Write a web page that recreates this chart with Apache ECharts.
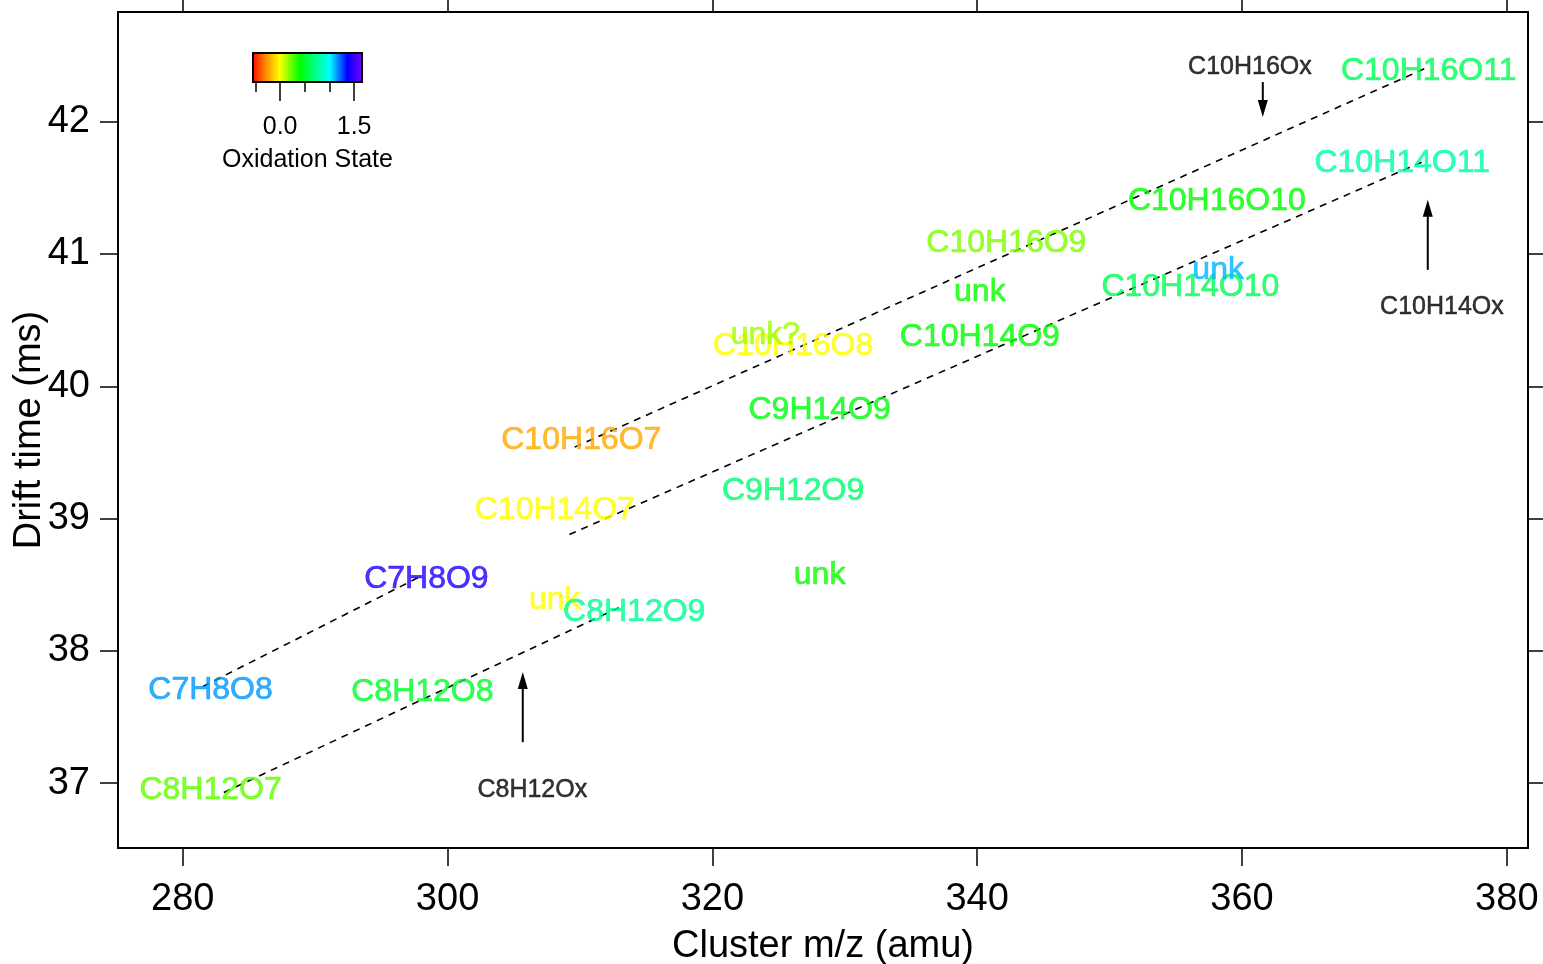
<!DOCTYPE html>
<html><head><meta charset="utf-8">
<script src="https://cdn.jsdelivr.net/npm/echarts@6/dist/echarts.min.js"></script>
<style>html,body{margin:0;padding:0;background:#fff}#c{width:1543px;height:964px}</style>
</head><body><div id="c"></div>
<script>
// ---- data ----
const labelNames = ['C8H12O7','C7H8O8','C7H8O9','C8H12O8','unk','C8H12O9','C10H14O7','C10H16O7','C10H16O8','unk?','C9H14O9','C9H12O9','unk','C10H14O9','unk','C10H16O9','C10H16O10','C10H14O10','unk','C10H14O11','C10H16O11'];
const labelMz = [282.1,282.1,298.4,298.1,308.1,314.1,308.1,310.1,326.1,324.0,328.1,326.1,328.1,340.2,340.2,342.2,358.1,356.1,358.2,372.1,374.1];
const labelDrift = [36.95,37.70,38.54,37.69,38.38,38.29,39.06,39.59,40.30,40.39,39.82,39.21,38.57,40.37,40.71,41.08,41.40,40.75,40.88,41.69,42.38];
const labelOxState = [0.25,1.14,1.43,0.5,0.0,0.75,0.0,-0.2,0.0,0.15,0.44,0.67,0.38,0.4,0.38,0.2,0.4,0.6,1.1,0.8,0.6];

const trendNames = ['C7H8Ox','C8H12Ox','C10H16Ox','C10H14Ox'];
const trendStartMz = [281.5,283.1,309.6,309.2];
const trendStartDrift = [37.73,36.93,39.54,38.88];
const trendEndMz = [297.9,313.0,374.0,373.7];
const trendEndDrift = [38.56,38.33,42.41,41.70];

const arrowNames = ['C10H16Ox','C10H14Ox','C8H12Ox'];
const arrowMz = [361.57,374.03,305.68];
const arrowFromDrift = [42.30,40.88,37.31];
const arrowToDrift = [42.035,41.41,37.84];
const arrowLabelMz = [360.6,375.1,306.4];
const arrowLabelDrift = [42.43,40.61,36.96];

const xTicks = [280,300,320,340,360,380];
const yTicks = [37,38,39,40,41,42];
const colorbarMajorTicks = [0,1.5];
const colorbarMinorTicks = [-0.5,0.5,1.0];
const colorbarRange = [-0.55,1.66];
const colorStopValues = [-0.55,-0.3,0.0,0.4,1.0,1.35,1.66];
const colorStopColors = ['#ff0000','#ff8000','#ffff00','#00ff00','#00ffff','#0000ff','#8000ff'];

// ---- helpers ----
const FONT = '"Liberation Sans", Arial, sans-serif';
function hex2rgb(h){return [parseInt(h.slice(1,3),16),parseInt(h.slice(3,5),16),parseInt(h.slice(5,7),16)];}
function colorFor(v){
  if (v <= colorStopValues[0]) return colorStopColors[0];
  for (let i=1;i<colorStopValues.length;i++){
    if (v <= colorStopValues[i]){
      const t=(v-colorStopValues[i-1])/(colorStopValues[i]-colorStopValues[i-1]);
      const a=hex2rgb(colorStopColors[i-1]), b=hex2rgb(colorStopColors[i]);
      return 'rgb('+a.map((c,k)=>Math.round(c+(b[k]-c)*t)).join(',')+')';
    }
  }
  return colorStopColors[colorStopColors.length-1];
}
const gradStops = colorStopValues.map((v,i)=>({offset:(v-colorbarRange[0])/(colorbarRange[1]-colorbarRange[0]),color:colorStopColors[i]}));

const trendSeries = trendNames.map((n,i)=>({
  name:n, type:'line', xAxisIndex:0, yAxisIndex:0, silent:true, symbol:'none', z:2,
  lineStyle:{color:'#000',width:1.6,type:[7,6]},
  data:[[trendStartMz[i],trendStartDrift[i]],[trendEndMz[i],trendEndDrift[i]]]
}));

const labelData = labelNames.map((n,i)=>{
  const c=colorFor(labelOxState[i]);
  return {name:n, value:[labelMz[i],labelDrift[i]],
    label:{color:c, textBorderColor:c, textBorderWidth:0.7}};
});

const option = {
  backgroundColor:'#fff',
  animation:false,
  grid:[
    {left:118, top:12, width:1410, height:836, show:false, outerBoundsMode:'none', containLabel:false},
    {left:253, top:53, width:109, height:29, show:false, outerBoundsMode:'none', containLabel:false}
  ],
  xAxis:[
    {gridIndex:0, type:'value', position:'bottom', min:275.11, max:381.6,
     axisLine:{show:true,onZero:false,lineStyle:{color:'#000',width:2}},
     axisTick:{show:true,inside:false,length:18,customValues:xTicks,lineStyle:{color:'#000',width:1.5}},
     axisLabel:{show:true,customValues:xTicks,margin:33,fontSize:38,color:'#000',fontFamily:FONT},
     splitLine:{show:false},
     name:'Cluster m/z (amu)', nameLocation:'middle', nameGap:80,
     nameTextStyle:{fontSize:38,color:'#000',fontFamily:FONT}},
    {gridIndex:0, type:'value', position:'top', min:275.11, max:381.6,
     axisLine:{show:true,onZero:false,lineStyle:{color:'#000',width:2}},
     axisTick:{show:true,inside:false,length:18,customValues:xTicks,lineStyle:{color:'#000',width:1.5}},
     axisLabel:{show:false,customValues:xTicks}, splitLine:{show:false}},
    {gridIndex:1, type:'value', position:'bottom', min:colorbarRange[0], max:colorbarRange[1],
     axisLine:{show:false},
     axisTick:{show:true,inside:false,length:19,customValues:colorbarMajorTicks,lineStyle:{color:'#000',width:1.5}},
     axisLabel:{show:true,customValues:colorbarMajorTicks,margin:33,fontSize:25,color:'#000',fontFamily:FONT,
       formatter:v=>Number(v).toFixed(1)},
     splitLine:{show:false},
     name:'Oxidation State', nameLocation:'middle', nameGap:66,
     nameTextStyle:{fontSize:25,color:'#000',fontFamily:FONT}},
    {gridIndex:1, type:'value', position:'bottom', min:colorbarRange[0], max:colorbarRange[1],
     axisLine:{show:false},
     axisTick:{show:true,inside:false,length:10,customValues:colorbarMinorTicks,lineStyle:{color:'#000',width:1.5}},
     axisLabel:{show:false,customValues:colorbarMinorTicks}, splitLine:{show:false}}
  ],
  yAxis:[
    {gridIndex:0, type:'value', position:'left', min:36.51, max:42.829,
     axisLine:{show:true,onZero:false,lineStyle:{color:'#000',width:2}},
     axisTick:{show:true,inside:false,length:18,customValues:yTicks,lineStyle:{color:'#000',width:1.5}},
     axisLabel:{show:true,customValues:yTicks,margin:28,fontSize:38,color:'#000',fontFamily:FONT},
     splitLine:{show:false},
     name:'Drift time (ms)', nameLocation:'middle', nameGap:69, nameRotate:90, nameMoveOverlap:false,
     nameTextStyle:{fontSize:38,color:'#000',fontFamily:FONT}},
    {gridIndex:0, type:'value', position:'right', min:36.51, max:42.829,
     axisLine:{show:true,onZero:false,lineStyle:{color:'#000',width:2}},
     axisTick:{show:true,inside:false,length:18,customValues:yTicks,lineStyle:{color:'#000',width:1.5}},
     axisLabel:{show:false,customValues:yTicks}, splitLine:{show:false}},
    {gridIndex:1, type:'value', min:0, max:1, show:false}
  ],
  series:[
    ...trendSeries,
    {name:'formulas', type:'scatter', xAxisIndex:0, yAxisIndex:0, z:3, silent:true,
     symbolSize:1, itemStyle:{color:'rgba(0,0,0,0)'},
     label:{show:true, position:'inside', offset:[0,3], formatter:p=>p.name, fontSize:32, fontFamily:FONT},
     labelLayout:{hideOverlap:false},
     data:labelData},
    {name:'arrows', type:'custom', xAxisIndex:0, yAxisIndex:0, z:4, silent:true, clip:false,
     data:arrowNames.map((n,i)=>[arrowMz[i],arrowFromDrift[i],arrowToDrift[i]]),
     encode:{x:0,y:[1,2]},
     renderItem:(params,api)=>{
       const p0=api.coord([api.value(0),api.value(1)]);
       const p1=api.coord([api.value(0),api.value(2)]);
       const dir=p1[1]>p0[1]?1:-1;
       const headL=17, headW=5;
       return {type:'group',children:[
         {type:'line',shape:{x1:p0[0],y1:p0[1],x2:p1[0],y2:p1[1]-dir*headL*0.8},style:{stroke:'#000',lineWidth:2}},
         {type:'polygon',shape:{points:[[p1[0],p1[1]],[p1[0]-headW,p1[1]-dir*headL],[p1[0]+headW,p1[1]-dir*headL]]},style:{fill:'#000'}}
       ]};
     }},
    {name:'arrowLabels', type:'scatter', xAxisIndex:0, yAxisIndex:0, z:4, silent:true,
     symbolSize:1, itemStyle:{color:'rgba(0,0,0,0)'},
     label:{show:true, position:'inside', offset:[0,2], formatter:p=>p.name, fontSize:25, color:'#000',
       textBorderColor:'#000', textBorderWidth:0.5, fontFamily:FONT},
     data:arrowNames.map((n,i)=>({name:n,value:[arrowLabelMz[i],arrowLabelDrift[i]]}))},
    {name:'colorbar', type:'custom', xAxisIndex:2, yAxisIndex:2, silent:true, clip:false, z:5,
     data:[[colorbarRange[0],0,colorbarRange[1],1]], encode:{x:[0,2],y:[1,3]},
     renderItem:(params,api)=>{
       const a=api.coord([api.value(0),api.value(3)]);
       const b=api.coord([api.value(2),api.value(1)]);
       return {type:'rect',shape:{x:a[0],y:a[1],width:b[0]-a[0],height:b[1]-a[1]},
         style:{fill:new echarts.graphic.LinearGradient(0,0,1,0,gradStops),stroke:'#000',lineWidth:2}};
     }}
  ]
};
const chart = echarts.init(document.getElementById('c'), null, {renderer:'canvas'});
chart.setOption(option);
</script>
</body></html>
